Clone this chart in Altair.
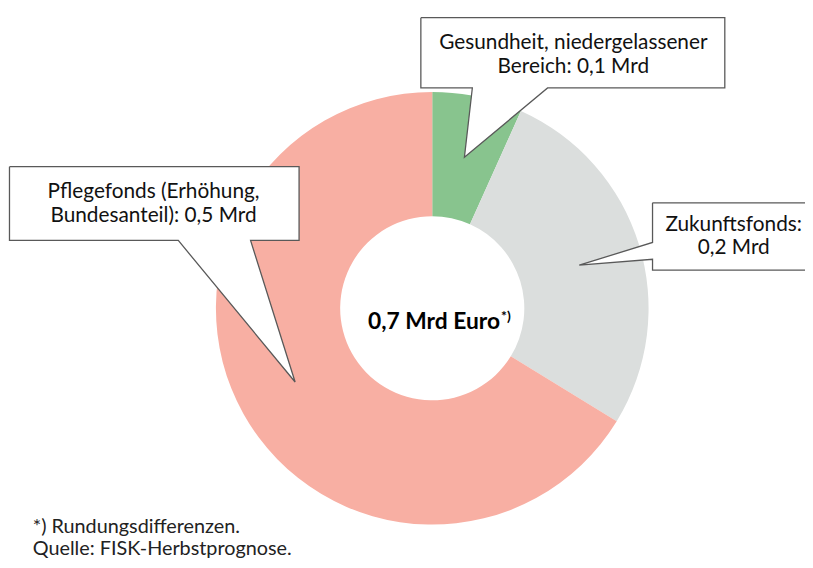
import altair as alt
import pandas as pd

# ---- data ----
categories = ["Gesundheit, niedergelassener Bereich", "Zukunftsfonds", "Pflegefonds (Erhöhung, Bundesanteil)"]
values = [0.049, 0.197, 0.483]
colors = ["#88C48E", "#DBDEDD", "#F8AFA3"]
label_lines = [
    ["Gesundheit, niedergelassener", "Bereich: 0,1 Mrd"],
    ["Zukunftsfonds:", "0,2 Mrd"],
    ["Pflegefonds (Erhöhung,", "Bundesanteil): 0,5 Mrd"],
]
center_text = "0,7 Mrd Euro"
center_sup = "*)"
footnotes = ["*) Rundungsdifferenzen.", "Quelle: FISK-Herbstprognose."]

# ---- layout (pixels, chart coordinates) ----
W, H = 805, 552
CX, CY, R_OUT, R_IN = 428.5, 300.5, 218.5, 93
FONT = "Lato"

callout_shapes = {
    0: [(417, 7), (724, 7), (724, 78), (545, 78), (461, 148), (469, 78), (417, 78), (417, 7)],
    1: [(651, 194), (806, 194), (806, 262), (651, 262), (651, 251), (577, 257), (651, 234), (651, 194)],
    2: [(1.5, 157.5), (294, 157.5), (294, 232), (245, 232), (290, 375), (172, 232), (1.5, 232), (1.5, 157.5)],
}
label_pos = [(571, 39), (733, 222), (147, 189)]

pie_df = pd.DataFrame({"cat": categories, "val": values, "order": [0, 1, 2]})

rows = []
for cid, pts in callout_shapes.items():
    for i, (x, y) in enumerate(pts):
        rows.append({"cid": cid, "i": i, "x": x, "y": y})
shape_df = pd.DataFrame(rows)

xs = alt.Scale(domain=[0, W], nice=False, zero=False)
ys = alt.Scale(domain=[0, H], nice=False, zero=False, reverse=True)

arc = alt.Chart(pie_df).mark_arc(outerRadius=R_OUT, innerRadius=R_IN, stroke=None).encode(
    theta=alt.Theta("val:Q", stack=True),
    order=alt.Order("order:Q"),
    color=alt.Color("cat:N", scale=alt.Scale(domain=categories, range=colors), legend=None),
    x=alt.value(CX),
    y=alt.value(CY),
)

callouts = alt.Chart(shape_df).mark_line(
    fill="white", stroke="#595959", strokeWidth=1.3, strokeJoin="miter", interpolate="linear"
).encode(
    x=alt.X("x:Q", scale=xs, axis=None),
    y=alt.Y("y:Q", scale=ys, axis=None),
    detail="cid:N",
    order="i:Q",
)

layers = [arc, callouts]
for lines, (lx, ly) in zip(label_lines, label_pos):
    layers.append(
        alt.Chart(pd.DataFrame({"t": [lines]})).mark_text(
            font=FONT, fontSize=21, color="#111111", align="center", baseline="alphabetic", lineHeight=24
        ).encode(text="t", x=alt.value(lx), y=alt.value(ly))
    )

layers.append(
    alt.Chart(pd.DataFrame({"t": [center_text]})).mark_text(
        font=FONT, fontSize=23, fontWeight="bold", color="#000000", align="right", baseline="alphabetic"
    ).encode(text="t:N", x=alt.value(497), y=alt.value(321))
)
layers.append(
    alt.Chart(pd.DataFrame({"t": [center_sup]})).mark_text(
        font=FONT, fontSize=14, fontWeight="bold", color="#000000", align="left", baseline="alphabetic"
    ).encode(text="t:N", x=alt.value(498), y=alt.value(313))
)
for txt, fy in zip(footnotes, [527, 550]):
    layers.append(
        alt.Chart(pd.DataFrame({"t": [txt]})).mark_text(
            font=FONT, fontSize=20, color="#222222", align="left", baseline="alphabetic"
        ).encode(text="t:N", x=alt.value(25), y=alt.value(fy))
    )

chart = alt.layer(*layers).properties(
    width=W, height=H, autosize=alt.AutoSizeParams(type="none"), padding=0
).configure_view(stroke=None)

chart.save("out.html", embed_options={"renderer": "svg", "actions": False})
